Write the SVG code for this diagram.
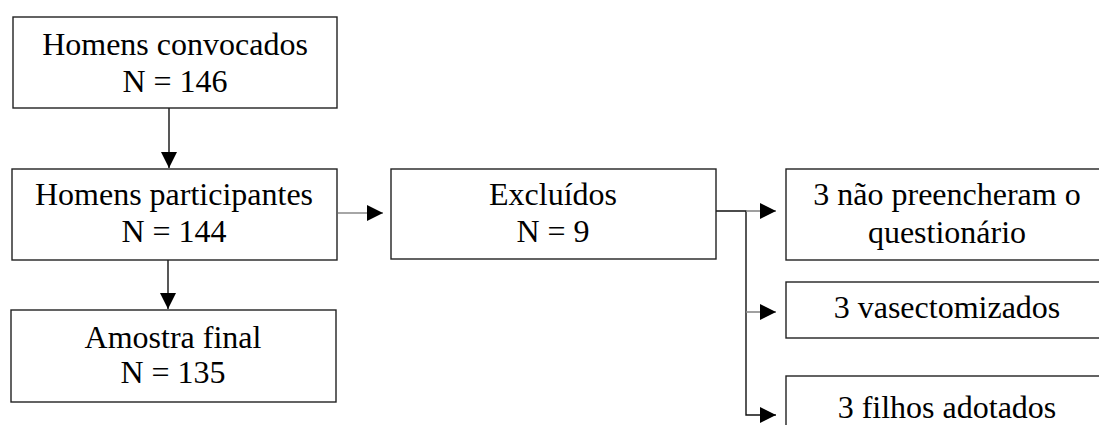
<svg xmlns="http://www.w3.org/2000/svg" width="1099" height="425" viewBox="0 0 1099 425">
<style>
.box{fill:#fff;stroke:#222;stroke-width:1.4}
.t{font-family:"Liberation Serif","Times New Roman",serif;font-size:32px;fill:#000;text-anchor:middle}
.ln{fill:none;stroke:#111;stroke-width:1.4}
.gl{fill:none;stroke:#888;stroke-width:1.6}
</style>
<defs>
<marker id="ah" markerUnits="userSpaceOnUse" markerWidth="16" markerHeight="16" refX="16" refY="8" orient="auto">
<path d="M0,0 L16,8 L0,16 Z" fill="#000"/>
</marker>
</defs>
<g id="connectors">
<line class="ln" x1="169" y1="108" x2="169" y2="168" marker-end="url(#ah)"/>
<line class="ln" x1="168" y1="253" x2="168" y2="309" marker-end="url(#ah)"/>
<line class="gl" x1="338" y1="213" x2="383" y2="213" marker-end="url(#ah)"/>
<polyline class="ln" points="716,211 746,211 746,415 760,415"/>
<line class="ln" x1="760" y1="415" x2="776" y2="415" marker-end="url(#ah)"/>
<line class="gl" x1="746" y1="211" x2="776" y2="211" marker-end="url(#ah)"/>
<line class="gl" x1="746" y1="312" x2="776" y2="312" marker-end="url(#ah)"/>
</g>
<g id="n1">
<rect class="box" x="13" y="17" width="324" height="91"/>
<text class="t" x="175" y="55">Homens convocados</text>
<text class="t" x="175" y="92">N = 146</text>
</g>
<g id="n2">
<rect class="box" x="12" y="169" width="325" height="91"/>
<text class="t" x="174" y="205">Homens participantes</text>
<text class="t" x="174" y="242">N = 144</text>
</g>
<g id="n3">
<rect class="box" x="11" y="310" width="325" height="92"/>
<text class="t" x="173" y="348">Amostra final</text>
<text class="t" x="173" y="383">N = 135</text>
</g>
<g id="n4">
<rect class="box" x="391" y="169" width="325" height="90"/>
<text class="t" x="553" y="205">Excluídos</text>
<text class="t" x="553" y="242">N = 9</text>
</g>
<g id="n5">
<rect class="box" x="786" y="169" width="330" height="91"/>
<text class="t" x="947" y="205">3 não preencheram o</text>
<text class="t" x="947" y="243">questionário</text>
</g>
<g id="n6">
<rect class="box" x="786" y="282" width="330" height="56"/>
<text class="t" x="947" y="318">3 vasectomizados</text>
</g>
<g id="n7">
<rect class="box" x="786" y="376" width="330" height="60"/>
<text class="t" x="947" y="418">3 filhos adotados</text>
</g>
</svg>
